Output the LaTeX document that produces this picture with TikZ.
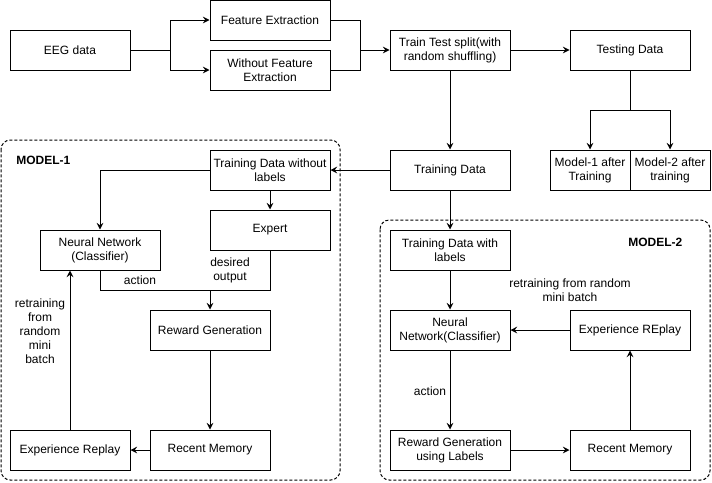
\documentclass[tikz,border=0pt]{standalone}
\usepackage{fontspec}
\setmainfont{Liberation Sans}
\usetikzlibrary{arrows.meta}
\begin{document}
\begin{tikzpicture}[x=0.75pt,y=-0.75pt,
  font=\fontsize{9}{10.5}\selectfont,
  box/.style={draw,line width=0.75pt,minimum width=90pt,minimum height=30pt,inner sep=1pt,align=center},
  halfbox/.style={draw,line width=0.75pt,minimum width=60pt,minimum height=30pt,inner sep=1pt,align=center},
  conn/.style={line width=0.75pt},
  arr/.style={line width=0.75pt,-{Stealth[length=5pt,width=5pt,inset=1.8pt]}},
  group/.style={draw,line width=0.75pt,dash pattern=on 2.25pt off 1.5pt,rounded corners=7pt},
  lbl/.style={align=center,inner sep=0pt},
  title/.style={font=\fontsize{9}{10.5}\selectfont\bfseries,inner sep=0pt}
]
\useasboundingbox (0,0) rectangle (712,482);
% groups
\draw[group] (1,140) rectangle (340,480);
\draw[group] (380,220) rectangle (710,480);
\node[title,anchor=west] (t1) at (16,160) {MODEL-1};
\node[title,anchor=west] (t2) at (628,242) {MODEL-2};
% top row
\node[box] (eeg) at (70,50) {EEG data};
\node[box] (fe) at (270,20) {Feature Extraction};
\node[box] (wfe) at (270,70) {Without Feature\\Extraction};
\node[box] (tts) at (450,50) {Train Test split(with\\random shuffling)};
\node[box] (test) at (630,50) {Testing Data};
\node[box] (train) at (450,170) {Training Data};
\node[halfbox] (m1) at (590,170) {Model-1 after\\Training};
\node[halfbox] (m2) at (670,170) {Model-2 after\\training};
% model 1
\node[box] (tdwl) at (270,170) {Training Data without\\labels};
\node[box] (expert) at (270,230) {Expert};
\node[box] (nn1) at (100,250) {Neural Network\\(Classifier)};
\node[box] (rg1) at (210,330) {Reward Generation};
\node[box] (rm1) at (210,450) {Recent Memory};
\node[box] (er1) at (70,450) {Experience Replay};
% model 2
\node[box] (tdl) at (450,250) {Training Data with\\labels};
\node[box] (nn2) at (450,330) {Neural\\Network(Classifier)};
\node[box] (er2) at (630,330) {Experience REplay};
\node[box] (rgl) at (450,450) {Reward Generation\\using Labels};
\node[box] (rm2) at (630,450) {Recent Memory};
% labels
\node[lbl] (la1) at (140,280) {action};
\node[lbl] (ld1) at (230,270) {desired\\output};
\node[lbl] (lr1) at (40,331) {retraining\\from\\random\\mini\\batch};
\node[lbl] (lr2) at (570,290) {retraining from random\\mini batch};
\node[lbl] (la2) at (430,391) {action};
% coordinates
\coordinate (s1) at (170,50);
\coordinate (s2) at (360,50);
\coordinate (s3) at (630,110);
\coordinate (j1) at (210,290);
% connectors top
\draw[conn] (eeg.east) -- (s1);
\draw[arr] (s1) |- (fe.west);
\draw[arr] (s1) |- (wfe.west);
\draw[conn] (fe.east) -| (s2);
\draw[conn] (wfe.east) -| (s2);
\draw[arr] (s2) -- (tts.west);
\draw[arr] (tts.east) -- (test.west);
\draw[arr] (tts.south) -- (train.north);
\draw[conn] (test.south) -- (s3);
\draw[arr] (s3) -| (m1.north);
\draw[arr] (s3) -| (m2.north);
\draw[arr] (train.west) -- (tdwl.east);
% model 1
\draw[arr] (tdwl.west) -| (nn1.north);
\draw[arr] (tdwl.south) -- (expert.north);
\draw[conn] (nn1.south) |- (j1);
\draw[conn] (expert.south) |- (j1);
\draw[arr] (j1) -- (rg1.north);
\draw[arr] (rg1.south) -- (rm1.north);
\draw[arr] (rm1.west) -- (er1.east);
\draw[arr] (er1.north) -- (er1.north |- nn1.south);
% model 2
\draw[arr] (train.south) -- (tdl.north);
\draw[arr] (tdl.south) -- (nn2.north);
\draw[arr] (nn2.south) -- (rgl.north);
\draw[arr] (rgl.east) -- (rm2.west);
\draw[arr] (rm2.north) -- (er2.south);
\draw[arr] (er2.west) -- (nn2.east);
\end{tikzpicture}
\end{document}
